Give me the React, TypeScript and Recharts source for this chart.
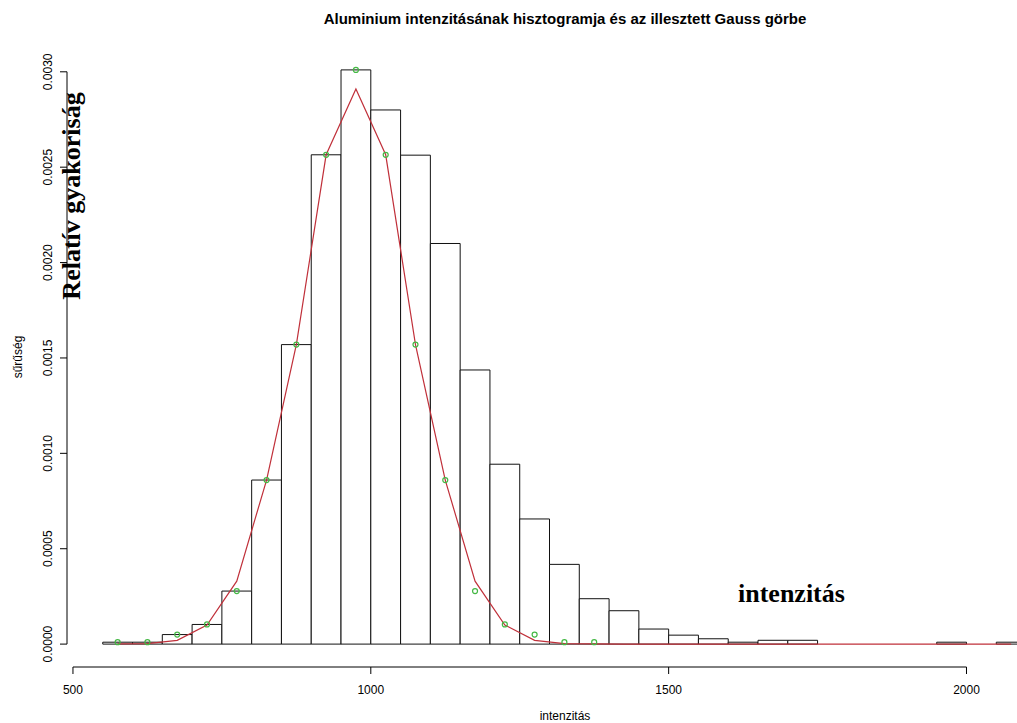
import React from "react"
import {
  ComposedChart,
  Line,
  Scatter,
  XAxis,
  YAxis,
  ReferenceArea,
  ReferenceLine,
} from "recharts"

// histogram bin edges (intenzitás) and densities
const binEdges = [
  550, 600, 650, 700, 750, 800, 850, 900, 950, 1000, 1050, 1100, 1150, 1200, 1250, 1300,
  1350, 1400, 1450, 1500, 1550, 1600, 1650, 1700, 1750, 1800, 1850, 1900, 1950, 2000, 2050, 2100,
]
const density = [
  0.00001, 0.00001, 0.00005, 0.000103, 0.000278, 0.00086, 0.00157, 0.002565, 0.00301, 0.0028,
  0.002563, 0.0021, 0.001437, 0.000943, 0.000656, 0.000418, 0.000238, 0.000175, 0.000079,
  0.000047, 0.000028, 0.00001, 0.00002, 0.00002, 0, 0, 0, 0, 0.00001, 0, 0.00001,
]

// green points (bin midpoints)
const pointX = [575, 625, 675, 725, 775, 825, 875, 925, 975, 1025, 1075, 1125, 1175, 1225, 1275, 1325, 1375]
const pointY = [
  0.00001, 0.00001, 0.00005, 0.000103, 0.000278, 0.00086, 0.00157, 0.002565, 0.00301,
  0.002565, 0.00157, 0.00086, 0.000278, 0.000103, 0.00005, 0.00001, 0.00001,
]

// fitted Gauss curve
const gaussX = [
  575, 625, 675, 725, 775, 825, 875, 925, 975, 1025, 1075, 1125, 1175, 1225, 1275, 1325, 1375,
  1425, 1475, 1525, 1575, 1625, 1675, 1725, 1775, 1825, 1875, 1925, 1975, 2025, 2075,
]
const gaussY = [
  0.000001, 0.000003, 0.00002, 0.0001, 0.00033, 0.00086, 0.00157, 0.002565, 0.00291, 0.002565,
  0.00157, 0.00086, 0.00033, 0.0001, 0.00002, 0.000003, 0.000001, 0, 0, 0, 0, 0, 0, 0, 0, 0, 0,
  0, 0, 0, 0,
]

const xTicks = [500, 1000, 1500, 2000]
const yTicks = [0, 0.0005, 0.001, 0.0015, 0.002, 0.0025, 0.003]

const points = pointX.map((x, i) => ({ x, y: pointY[i] }))
const gauss = gaussX.map((x, i) => ({ x, y: gaussY[i] }))

const sans = "'Liberation Sans', Arial, sans-serif"
const serif = "'Liberation Serif', 'Times New Roman', serif"

const XTick = ({ x, payload }: any) => (
  <text x={x} y={694} textAnchor="middle" fontSize={12} fontFamily={sans} fill="#000">
    {payload.value}
  </text>
)

const YTick = ({ y, payload }: any) => (
  <text
    x={52}
    y={y}
    transform={`rotate(-90, 52, ${y})`}
    textAnchor="middle"
    fontSize={12}
    fontFamily={sans}
    fill="#000"
  >
    {Number(payload.value).toFixed(4)}
  </text>
)

const Ring = ({ cx, cy }: any) => (
  <circle cx={cx} cy={cy} r={2.5} fill="none" stroke="#44b844" strokeWidth={1.2} />
)

export default function App() {
  return (
    <div
      style={{
        position: "absolute",
        left: 0,
        top: 0,
        width: 1017,
        height: 723,
        overflow: "hidden",
        background: "#fff",
      }}
    >
      <ComposedChart
        width={1080}
        height={723}
        data={gauss}
        margin={{ top: 47, right: 17, bottom: 26, left: 0 }}
      >
        <XAxis
          type="number"
          dataKey="x"
          domain={[490, 2162]}
          ticks={xTicks}
          allowDataOverflow
          height={30}
          axisLine={false}
          tickSize={7}
          tickLine={{ stroke: "#000" }}
          tick={<XTick />}
        />
        <YAxis
          type="number"
          domain={[-0.00012, 0.00313]}
          ticks={yTicks}
          allowDataOverflow
          width={67}
          axisLine={false}
          tickSize={7}
          tickLine={{ stroke: "#000" }}
          tick={<YTick />}
        />
        <ReferenceLine
          segment={[{ x: 500, y: -0.00012 }, { x: 2000, y: -0.00012 }]}
          stroke="#000"
          ifOverflow="visible"
        />
        <ReferenceLine
          segment={[{ x: 490, y: 0 }, { x: 490, y: 0.003 }]}
          stroke="#000"
          ifOverflow="visible"
        />
        {density.map((d, i) => (
          <ReferenceArea
            key={i}
            x1={binEdges[i]}
            x2={binEdges[i + 1]}
            y1={0}
            y2={d}
            fill="#fff"
            fillOpacity={1}
            stroke="#111"
            strokeWidth={1}
            ifOverflow="visible"
          />
        ))}
        <Line
          data={gauss}
          dataKey="y"
          type="linear"
          stroke="#c0303a"
          strokeWidth={1.2}
          dot={false}
          isAnimationActive={false}
        />
        <Scatter data={points} dataKey="y" shape={<Ring />} isAnimationActive={false} />
      </ComposedChart>
      <svg
        width={1017}
        height={723}
        style={{ position: "absolute", left: 0, top: 0, pointerEvents: "none" }}
      >
        <text x={565} y={24} textAnchor="middle" fontSize={15} fontWeight="bold" fontFamily={sans}>
          Aluminium intenzitásának hisztogramja és az illesztett Gauss görbe
        </text>
        <text x={565} y={720} textAnchor="middle" fontSize={12} fontFamily={sans}>
          intenzitás
        </text>
        <text
          x={22}
          y={357}
          transform="rotate(-90, 22, 357)"
          textAnchor="middle"
          fontSize={12}
          fontFamily={sans}
        >
          sűrűség
        </text>
        <text
          x={80}
          y={196}
          transform="rotate(-90, 80, 196)"
          textAnchor="middle"
          fontSize={26}
          fontWeight="bold"
          fontFamily={serif}
        >
          Relatív gyakoriság
        </text>
        <text x={738} y={602} fontSize={26} fontWeight="bold" fontFamily={serif}>
          intenzitás
        </text>
      </svg>
    </div>
  )
}
